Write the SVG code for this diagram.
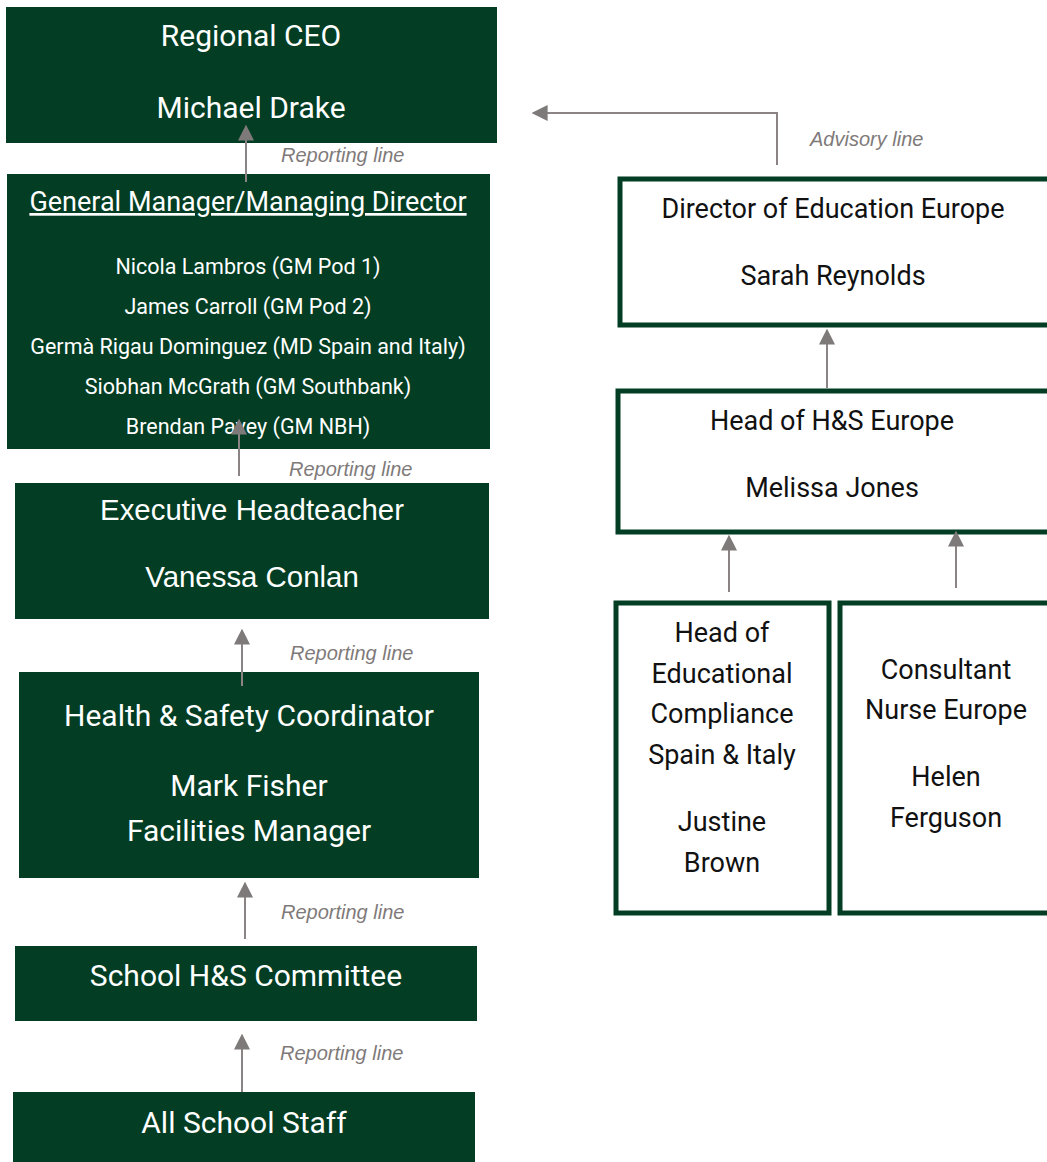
<svg xmlns="http://www.w3.org/2000/svg" width="1047" height="1162" viewBox="0 0 1047 1162">
<style>
.dk{fill:#023d24}
.wb{fill:#fff;stroke:#023d24;stroke-width:5}
.t{font-family:Roboto,"Liberation Sans",sans-serif;text-anchor:middle}
.w{fill:#fff}
.b{fill:#111}
.a{font-family:"Liberation Sans",Arial,sans-serif;text-anchor:middle}
.lab{font-family:"Liberation Sans",Arial,sans-serif;font-style:italic;font-size:20px;fill:#7f7a7a}
.ln{stroke:#8a8484;stroke-width:2;fill:none}
</style>
<defs>
<marker id="ah" viewBox="0 0 10 10" refX="1" refY="5" markerWidth="16" markerHeight="16" markerUnits="userSpaceOnUse" orient="auto-start-reverse">
<path d="M0,0 L10,5 L0,10 z" fill="#7f7a7a"/>
</marker>
</defs>
<rect width="1047" height="1162" fill="#fff"/>
<g id="ceo">
<rect class="dk" x="6" y="7" width="491" height="136"/>
<text class="t w" x="251" y="46" font-size="30">Regional CEO</text>
<text class="t w" x="251" y="118" font-size="30">Michael Drake</text>
</g>
<g id="gm">
<rect class="dk" x="7" y="174" width="483" height="275"/>
<text class="t w" x="248" y="211" font-size="27" text-decoration="underline">General Manager/Managing Director</text>
<text class="t w" x="248" y="274" font-size="21.5">Nicola Lambros (GM Pod 1)</text>
<text class="t w" x="248" y="314" font-size="21.5">James Carroll (GM Pod 2)</text>
<text class="t w" x="248" y="354" font-size="21.5">Germà Rigau Dominguez (MD Spain and Italy)</text>
<text class="t w" x="248" y="394" font-size="21.5">Siobhan McGrath (GM Southbank)</text>
<text class="t w" x="248" y="434" font-size="21.5">Brendan Pavey (GM NBH)</text>
</g>
<g id="exec">
<rect class="dk" x="15" y="483" width="474" height="136"/>
<text class="a w" x="252" y="520" font-size="29.4">Executive Headteacher</text>
<text class="a w" x="252" y="587" font-size="29.4">Vanessa Conlan</text>
</g>
<g id="hsc">
<rect class="dk" x="19" y="672" width="460" height="206"/>
<text class="t w" x="249" y="726" font-size="30">Health &amp; Safety Coordinator</text>
<text class="t w" x="249" y="796" font-size="30">Mark Fisher</text>
<text class="t w" x="249" y="841" font-size="30">Facilities Manager</text>
</g>
<g id="committee">
<rect class="dk" x="15" y="946" width="462" height="75"/>
<text class="t w" x="246" y="986" font-size="30">School H&amp;S Committee</text>
</g>
<g id="staff">
<rect class="dk" x="13" y="1092" width="462" height="70"/>
<text class="t w" x="244" y="1133" font-size="30">All School Staff</text>
</g>
<g id="director">
<rect class="wb" x="620" y="179" width="432" height="146"/>
<text class="t b" x="833" y="218" font-size="27">Director of Education Europe</text>
<text class="t b" x="833" y="285" font-size="27">Sarah Reynolds</text>
</g>
<g id="headhs">
<rect class="wb" x="618" y="391" width="434" height="141"/>
<text class="t b" x="832" y="430" font-size="27">Head of H&amp;S Europe</text>
<text class="t b" x="832" y="497" font-size="27">Melissa Jones</text>
</g>
<g id="compliance">
<rect class="wb" x="616" y="603" width="213" height="310"/>
<text class="t b" x="722" y="642" font-size="27">Head of</text>
<text class="t b" x="722" y="683" font-size="27">Educational</text>
<text class="t b" x="722" y="723" font-size="27">Compliance</text>
<text class="t b" x="722" y="764" font-size="27">Spain &amp; Italy</text>
<text class="t b" x="722" y="831" font-size="27">Justine</text>
<text class="t b" x="722" y="872" font-size="27">Brown</text>
</g>
<g id="nurse">
<rect class="wb" x="840" y="603" width="212" height="310"/>
<text class="t b" x="946" y="679" font-size="27">Consultant</text>
<text class="t b" x="946" y="719" font-size="27">Nurse Europe</text>
<text class="t b" x="946" y="786" font-size="27">Helen</text>
<text class="t b" x="946" y="827" font-size="27">Ferguson</text>
</g>
<g id="connectors">
<path class="ln" d="M246,182 V139" marker-end="url(#ah)"/>
<text class="lab" x="281" y="162">Reporting line</text>
<path class="ln" d="M239,476 V433" marker-end="url(#ah)"/>
<text class="lab" x="289" y="476">Reporting line</text>
<path class="ln" d="M242,686 V643" marker-end="url(#ah)"/>
<text class="lab" x="290" y="660">Reporting line</text>
<path class="ln" d="M245,939 V896" marker-end="url(#ah)"/>
<text class="lab" x="281" y="919">Reporting line</text>
<path class="ln" d="M242,1092 V1048" marker-end="url(#ah)"/>
<text class="lab" x="280" y="1060">Reporting line</text>
<path class="ln" d="M777,165 V113 H546" marker-end="url(#ah)"/>
<text class="lab" x="810" y="146">Advisory line</text>
<path class="ln" d="M827,388 V343" marker-end="url(#ah)"/>
<path class="ln" d="M729,592 V549" marker-end="url(#ah)"/>
<path class="ln" d="M956,588 V545" marker-end="url(#ah)"/>
</g>
</svg>
